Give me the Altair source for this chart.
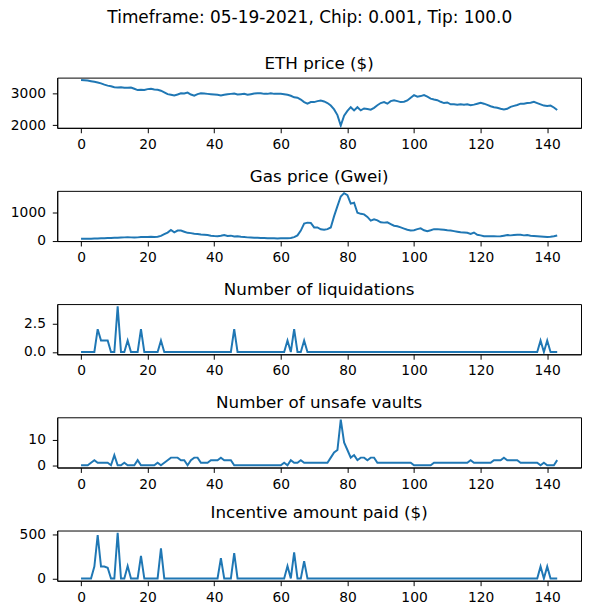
import altair as alt
import pandas as pd

suptitle = "Timeframe: 05-19-2021, Chip: 0.001, Tip: 100.0"
titles = ["ETH price ($)", "Gas price (Gwei)", "Number of liquidations",
          "Number of unsafe vaults", "Incentive amount paid ($)"]

eth_price = [
    3430, 3420, 3410, 3390, 3370, 3350, 3320, 3280, 3250, 3230,
    3200, 3190, 3200, 3180, 3180, 3190, 3150, 3110, 3120, 3110,
    3140, 3150, 3130, 3120, 3090, 3040, 2980, 2960, 2940, 2970,
    3010, 3000, 3030, 2970, 2930, 2980, 3010, 3000, 2990, 2980,
    2970, 2960, 2940, 2960, 2980, 2990, 3000, 2970, 2980, 2990,
    2960, 2980, 3000, 3010, 3010, 2990, 2990, 3010, 2990, 2990,
    2990, 2980, 2960, 2930, 2880, 2870, 2810, 2730, 2680, 2730,
    2730, 2760, 2780, 2750, 2700, 2620, 2500, 2320, 1990, 2300,
    2450, 2570, 2470, 2570, 2470, 2530, 2510, 2490, 2550, 2630,
    2700, 2730, 2680, 2760, 2790, 2760, 2730, 2740, 2780, 2870,
    2950, 2900, 2920, 2950, 2900, 2840, 2810, 2790, 2740, 2700,
    2720, 2660, 2660, 2650, 2660, 2650, 2660, 2630, 2650, 2680,
    2710, 2680, 2640, 2600, 2570, 2550, 2520, 2500, 2520, 2580,
    2610, 2640, 2680, 2680, 2700, 2710, 2740, 2700, 2660, 2620,
    2610, 2620, 2560, 2480,
]

gas_price = [
    80, 80, 82, 85, 88, 90, 95, 100, 105, 110,
    115, 120, 125, 130, 135, 130, 125, 130, 140, 140,
    145, 150, 140, 150, 180, 240, 300, 390, 310, 370,
    370, 330, 290, 280, 260, 250, 230, 220, 210, 190,
    175, 170, 185, 210, 180, 190, 160, 170, 150, 140,
    130, 125, 120, 115, 110, 105, 100, 95, 95, 90,
    95, 100, 100, 110, 140, 200, 370, 620, 650, 640,
    480, 480, 415, 400, 420, 480, 880, 1230, 1570, 1690,
    1620, 1320, 1350, 1000, 960, 940, 850, 720, 770, 730,
    660, 650, 660, 600, 540, 520, 480, 440, 400, 370,
    380, 420, 450, 380, 345, 380, 420, 420, 410, 400,
    380, 370, 350, 330, 310, 300, 290, 250, 300, 220,
    200, 170, 170, 170, 170, 165, 170, 190, 210, 200,
    210, 220, 220, 200, 210, 190, 180, 170, 160, 150,
    140, 150, 170, 195,
]

liquidations = [
    0, 0, 0, 0, 0, 2, 1, 1, 1, 0,
    0, 4, 0, 0, 1, 0, 0, 0, 2, 0,
    0, 0, 0, 0, 1, 0, 0, 0, 0, 0,
    0, 0, 0, 0, 0, 0, 0, 0, 0, 0,
    0, 0, 0, 0, 0, 0, 2, 0, 0, 0,
    0, 0, 0, 0, 0, 0, 0, 0, 0, 0,
    0, 0, 1, 0, 2, 0, 0, 1, 0, 0,
    0, 0, 0, 0, 0, 0, 0, 0, 0, 0,
    0, 0, 0, 0, 0, 0, 0, 0, 0, 0,
    0, 0, 0, 0, 0, 0, 0, 0, 0, 0,
    0, 0, 0, 0, 0, 0, 0, 0, 0, 0,
    0, 0, 0, 0, 0, 0, 0, 0, 0, 0,
    0, 0, 0, 0, 0, 0, 0, 0, 0, 0,
    0, 0, 0, 0, 0, 0, 0, 0, 1, 0,
    1, 0, 0, 0,
]

unsafe_vaults = [
    0, 0, 0, 1, 2, 1, 1, 1, 1, 0,
    4, 0, 0, 1, 0, 0, 0, 2, 0, 0,
    0, 0, 0, 1, 0, 1, 2, 3, 3, 3,
    2, 2, 0, 2, 3, 3, 1, 1, 1, 2,
    2, 2, 3, 2, 2, 2, 0, 0, 0, 0,
    0, 0, 0, 0, 0, 0, 0, 0, 0, 0,
    0, 1, 0, 2, 1, 1, 2, 1, 1, 1,
    1, 1, 1, 1, 1, 3, 5, 6, 18, 9,
    6, 3, 4, 2, 3, 3, 2, 3, 3, 1,
    1, 1, 1, 1, 1, 1, 1, 1, 1, 1,
    0, 0, 0, 0, 0, 0, 1, 1, 1, 1,
    1, 1, 1, 1, 1, 1, 1, 2, 1, 1,
    1, 1, 1, 1, 2, 2, 2, 3, 2, 2,
    2, 2, 1, 1, 1, 1, 1, 1, 0, 1,
    0, 0, 0, 2,
]

incentive_paid = [
    0, 0, 0, 0, 135, 490, 135, 135, 120, 0,
    0, 515, 0, 0, 140, 0, 0, 0, 255, 0,
    0, 0, 0, 0, 340, 0, 0, 0, 0, 0,
    0, 0, 0, 0, 0, 0, 0, 0, 0, 0,
    0, 0, 230, 0, 0, 0, 285, 0, 0, 0,
    0, 0, 0, 0, 0, 0, 0, 0, 0, 0,
    0, 0, 140, 0, 295, 0, 0, 195, 0, 0,
    0, 0, 0, 0, 0, 0, 0, 0, 0, 0,
    0, 0, 0, 0, 0, 0, 0, 0, 0, 0,
    0, 0, 0, 0, 0, 0, 0, 0, 0, 0,
    0, 0, 0, 0, 0, 0, 0, 0, 0, 0,
    0, 0, 0, 0, 0, 0, 0, 0, 0, 0,
    0, 0, 0, 0, 0, 0, 0, 0, 0, 0,
    0, 0, 0, 0, 0, 0, 0, 0, 135, 0,
    135, 0, 0, 0,
]

series = [eth_price, gas_price, liquidations, unsafe_vaults, incentive_paid]
y_ticks = [[2000, 3000], [0, 1000], [0.0, 2.5], [0, 10], [0, 500]]
y_formats = ["d", "d", ".1f", "d", "d"]
x_ticks = [0, 20, 40, 60, 80, 100, 120, 140]

FONT = "DejaVu Sans"
n = len(eth_price)
x_dom = [-0.05 * (n - 1), (n - 1) * 1.05]

panels = []
for title, vals, yt, fmt in zip(titles, series, y_ticks, y_formats):
    df = pd.DataFrame({"t": list(range(len(vals))), "v": vals})
    lo, hi = min(vals), max(vals)
    pad = 0.05 * (hi - lo)
    p = (
        alt.Chart(df, title=alt.TitleParams(title, fontSize=17, font=FONT,
                                            fontWeight="normal", color="black",
                                            offset=5))
        .mark_line(color="#1f77b4", strokeWidth=2, clip=True)
        .encode(
            x=alt.X("t:Q", scale=alt.Scale(domain=x_dom, nice=False, zero=False),
                    axis=alt.Axis(values=x_ticks, title=None, grid=False, format="d",
                                  labelPadding=5)),
            y=alt.Y("v:Q", scale=alt.Scale(domain=[lo - pad, hi + pad], nice=False, zero=False),
                    axis=alt.Axis(values=yt, title=None, grid=False, format=fmt,
                                  labelPadding=7, minExtent=49, maxExtent=49)),
        )
        .properties(width=532, height=51)
    )
    panels.append(p)

chart = (
    alt.vconcat(*panels, spacing=64, bounds="flush")
    .properties(
        title=alt.TitleParams(suptitle, fontSize=17.2, font=FONT, fontWeight="normal",
                              color="black", anchor="middle", offset=29, dx=15),
        padding={"left": 0, "right": 0, "top": -4, "bottom": 0},
    )
    .configure_view(stroke="black", strokeWidth=1)
    .configure_axis(
        domainColor="black", tickColor="black", labelColor="black",
        labelFont=FONT, labelFontSize=14, tickSize=5,
        domainWidth=1, tickWidth=1,
    )
)

chart.save("out.html", embed_options={"renderer": "svg", "actions": False})
